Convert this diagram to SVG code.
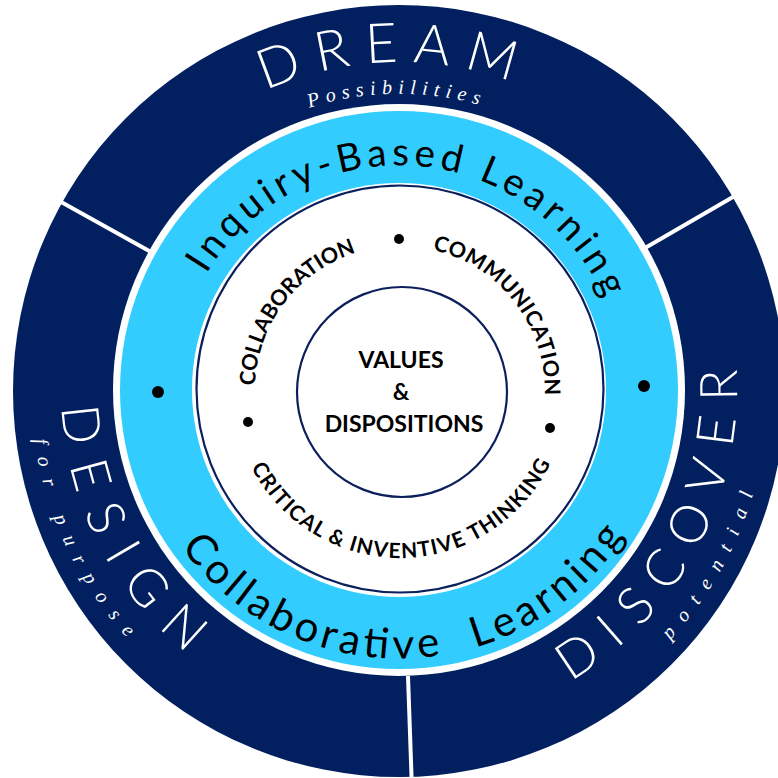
<svg xmlns="http://www.w3.org/2000/svg" width="778" height="778" viewBox="0 0 778 778">
  <style>
    .navy { fill: #02205f; }
    .sky { fill: #33ccff; }
    .big { font-family: Lato, "Open Sans", "Liberation Sans", sans-serif; font-weight: 300; fill: #ffffff; }
    .script { font-family: "Liberation Serif", "DejaVu Serif", serif; font-style: italic; fill: #ffffff; }
    .band { font-family: Lato, "Open Sans", "Liberation Sans", sans-serif; font-weight: 400; fill: #000000; }
    .skill { font-family: Lato, "Open Sans", "Liberation Sans", sans-serif; font-weight: 700; fill: #000000; }
    .dot { fill: #000000; }
  </style>
  <defs>
    <!-- outer band, letters facing outward (clockwise) -->
    <path id="arcDream" d="M74.2,344.4 A328,328 0 0 1 719.8,321.8"/>
    <path id="arcPossible" d="M106.6,343.7 A296,296 0 0 1 689.6,333.5"/>
    <!-- outer band, letters facing inward (counter-clockwise) -->
    <path id="arcDesign" d="M195.6,120.1 A338,338 0 0 0 497.8,713.2"/>
    <path id="arcPurpose" d="M187.9,88.6 A368,368 0 0 0 494.2,745.5"/>
    <path id="arcDiscover" d="M294.6,711.5 A338,338 0 0 0 607.1,123.7"/>
    <path id="arcPotential" d="M275.8,737.8 A369,369 0 0 0 633.7,105.3"/>
    <!-- light blue band -->
    <path id="arcInquiry" d="M176.5,356.7 A225,225 0 0 1 623.9,384.1"/>
    <path id="arcCollab" d="M132.3,416.9 A268,268 0 0 0 666.3,409.9"/>
    <!-- skills ring -->
    <path id="arcSkillL" d="M302.5,498.4 A145,145 0 0 1 477.4,268.4"/>
    <path id="arcSkillR" d="M321.7,269.0 A145,145 0 0 1 498.3,497.6"/>
    <path id="arcSkillB" d="M233.8,407.6 A167,167 0 0 0 566.5,403.5"/>
  </defs>

  <!-- outer navy ring with white gap to the light blue band -->
  <circle class="navy" cx="399" cy="391" r="386"/>
  <g id="dividers" stroke="#ffffff" stroke-width="4" stroke-linecap="butt">
    <line x1="151" y1="252" x2="45" y2="193"/>
    <line x1="645" y1="248" x2="745" y2="190"/>
    <line x1="408" y1="676" x2="412" y2="790"/>
  </g>
  <circle fill="#ffffff" cx="399" cy="390" r="286"/>

  <g id="ring-dream">
    <text class="big" font-size="55"><textPath href="#arcDream" startOffset="50%" text-anchor="middle" textLength="252" lengthAdjust="spacing">DREAM</textPath></text>
    <text class="script" font-size="20"><textPath href="#arcPossible" startOffset="50%" text-anchor="middle" textLength="172" lengthAdjust="spacing">Possibilities</textPath></text>
  </g>

  <g id="ring-design">
    <text class="big" font-size="52"><textPath href="#arcDesign" startOffset="50%" text-anchor="middle" textLength="285" lengthAdjust="spacing">DESIGN</textPath></text>
    <text class="script" font-size="20"><textPath href="#arcPurpose" startOffset="50%" text-anchor="middle" textLength="222" lengthAdjust="spacing">for purpose</textPath></text>
  </g>

  <g id="ring-discover">
    <text class="big" font-size="52"><textPath href="#arcDiscover" startOffset="50%" text-anchor="middle" textLength="372" lengthAdjust="spacing">DISCOVER</textPath></text>
    <text class="script" font-size="20"><textPath href="#arcPotential" startOffset="50%" text-anchor="middle" textLength="170" lengthAdjust="spacing">potential</textPath></text>
  </g>

  <!-- light blue learning band -->
  <g id="band-learning">
    <circle class="sky" cx="399" cy="390" r="279"/>
    <circle fill="#ffffff" cx="399" cy="390" r="207"/>
    <text class="band" font-size="38.5"><textPath href="#arcInquiry" startOffset="50%" text-anchor="middle" textLength="490" lengthAdjust="spacing">Inquiry-Based Learning</textPath></text>
    <text class="band" font-size="42" xml:space="preserve"><textPath href="#arcCollab" startOffset="401" text-anchor="middle" textLength="522" lengthAdjust="spacing">Collaborative  Learning</textPath></text>
    <circle class="dot" cx="158" cy="392" r="6"/>
    <circle class="dot" cx="644" cy="386" r="6"/>
  </g>

  <!-- skills ring -->
  <g id="ring-skills">
    <circle fill="none" stroke="#0a1f5c" stroke-width="2.2" cx="400" cy="389" r="203.5"/>
    <text class="skill" font-size="21.5"><textPath href="#arcSkillL" startOffset="50%" text-anchor="middle" textLength="178" lengthAdjust="spacing">COLLABORATION</textPath></text>
    <text class="skill" font-size="21.5"><textPath href="#arcSkillR" startOffset="50%" text-anchor="middle" textLength="199" lengthAdjust="spacing">COMMUNICATION</textPath></text>
    <text class="skill" font-size="21"><textPath href="#arcSkillB" startOffset="50%" text-anchor="middle" textLength="371" lengthAdjust="spacing">CRITICAL &amp; INVENTIVE THINKING</textPath></text>
    <circle class="dot" cx="399" cy="239" r="5"/>
    <circle class="dot" cx="248" cy="422" r="5"/>
    <circle class="dot" cx="550" cy="428" r="5"/>
  </g>

  <!-- core -->
  <g id="core-values">
    <circle fill="#ffffff" stroke="#0a1f5c" stroke-width="2.2" cx="402" cy="392" r="105"/>
    <text class="skill" font-size="23" text-anchor="middle" x="401" y="368">VALUES</text>
    <text class="skill" font-size="23" text-anchor="middle" x="401" y="400">&amp;</text>
    <text class="skill" font-size="23" text-anchor="middle" x="404" y="432">DISPOSITIONS</text>
  </g>
</svg>
